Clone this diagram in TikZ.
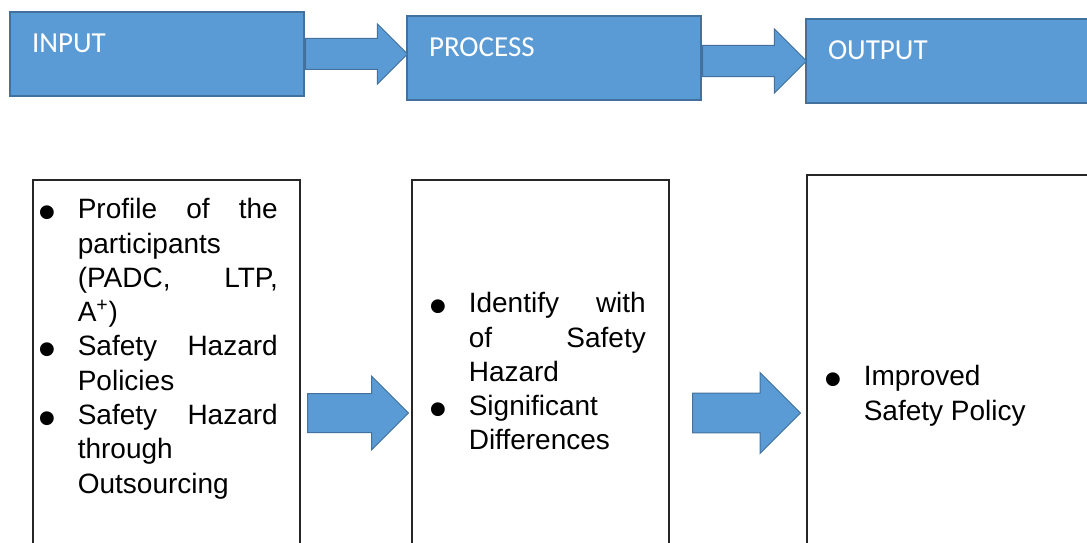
\documentclass[tikz,border=0pt]{standalone}
\usepackage{fontspec}
\setmainfont{Liberation Sans}
\newfontfamily\calibri{Carlito}
\usepackage{enumitem}
\usetikzlibrary{positioning, shapes.arrows, calc}

\definecolor{stageblue}{HTML}{5B9BD5}
\definecolor{stageline}{HTML}{41719C}

\newcommand{\bigbullet}{\raisebox{-7.9pt}{\fontsize{38pt}{38pt}\selectfont\textbullet}}
\setlist[itemize]{label=\bigbullet, labelsep=16pt, itemsep=0pt, parsep=0pt, topsep=0pt, partopsep=0pt}
\hbadness=10000

\begin{document}
\begin{tikzpicture}[
      x=0.75pt, y=-0.75pt,
      stage/.style={draw=stageline, fill=stageblue, line width=1.5pt, anchor=north west,
        text=white, font=\calibri\fontsize{21.75pt}{26pt}\selectfont, align=left,
        text width=187.5pt, inner xsep=16.5pt, inner ysep=0pt,
        text height=30.75pt, text depth=32.25pt},
      listbox/.style={draw=black!85, line width=1.2pt, anchor=north west, inner sep=0pt,
        align=justify, font=\fontsize{21pt}{25.7pt}\selectfont, text depth=300pt},
      blockarrow/.style={single arrow, draw=stageline, fill=stageblue, line width=0.75pt,
        anchor=tail, minimum width=0pt, inner xsep=0pt, single arrow tip angle=90}
    ]
      \useasboundingbox (0,0) rectangle (1087,542);

      % top row
      \node[stage] (input) at (9,11) {INPUT};
      \node[stage] (process) at (406,15) {PROCESS};
      \node[stage] (output) at (805,18) {OUTPUT};

      \node[blockarrow, minimum height=76.5pt, inner ysep=11.25pt,
        single arrow head extend=10.9pt] (step1) at (input.east) {};
      \node[blockarrow, minimum height=78pt, inner ysep=11.25pt,
        single arrow head extend=12.4pt] (step2) at ($(process.east)+(0,3)$) {};

      % bottom row
      \node[listbox, text width=200.25pt, text height=3.6pt] (inlist) at (32,179) {%
        \begin{itemize}[leftmargin=33.75pt, rightmargin=16.5pt]
          \item Profile~of~the\linebreak participants\newline (PADC,~LTP,\linebreak A\textsuperscript{+})
          \item Safety~Hazard\linebreak Policies
          \item Safety~Hazard\linebreak through\newline Outsourcing
        \end{itemize}};
      \node[listbox, text width=192.75pt, text height=74pt] (proclist) at (411,179) {%
        \begin{itemize}[leftmargin=42.75pt, rightmargin=17.25pt]
          \item Identify~with\linebreak of~Safety\linebreak Hazard
          \item Significant\newline Differences
        \end{itemize}};
      \node[listbox, text width=225pt, text height=132.5pt] (outlist) at (806,174) {%
        \begin{itemize}[leftmargin=42.75pt]
          \item Improved\newline Safety Policy
        \end{itemize}};

      \node[blockarrow, minimum height=75.75pt, inner ysep=14.25pt,
        single arrow head extend=13.1pt] (step3) at (307,413) {};
      \node[blockarrow, minimum height=81pt, inner ysep=14.6pt,
        single arrow head extend=15.4pt] (step4) at (692,413) {};
    \end{tikzpicture}
\end{document}
